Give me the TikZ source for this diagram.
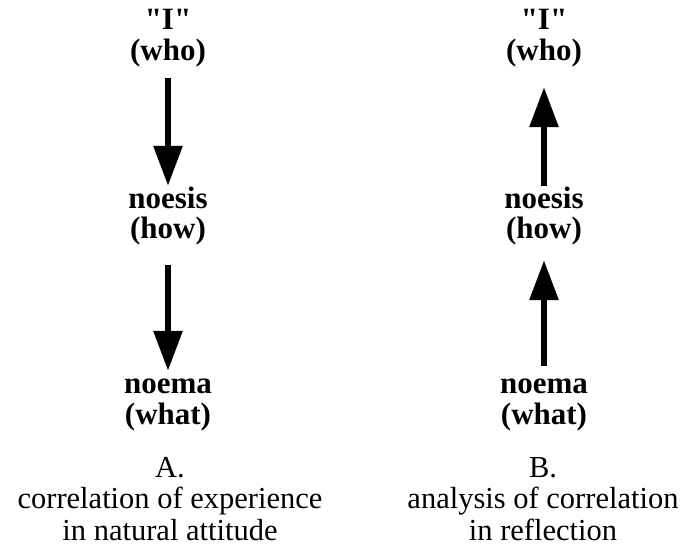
\documentclass[tikz,border=0pt]{standalone}
\usepackage{fontspec}
\setmainfont{Liberation Serif}
\newfontfamily\plainquote{Liberation Serif}
\usetikzlibrary{arrows.meta, positioning}

\begin{document}
\begin{tikzpicture}[x=1pt, y=-1pt,
    term/.style={inner sep=0pt, anchor=base, text height=22pt, text depth=7pt,
      font=\fontsize{31}{33}\selectfont\bfseries},
    caption/.style={inner sep=0pt, anchor=base, font=\fontsize{30.5}{32}\selectfont},
    flow/.style={line width=6pt, -{Triangle[length=40pt, width=28pt]}}]
    \useasboundingbox (0,0) rectangle (696,557);
    % A: natural attitude
    \node[term] (iA) at (168,29) {{\plainquote\bfseries"}I{\plainquote\bfseries"}};
    \node[term] (whoA) at (168,60) {(who)};
    \node[term] (noesisA) at (168,208) {noesis};
    \node[term] (howA) at (168,238) {(how)};
    \node[term] (noemaA) at (168,393) {noema};
    \node[term] (whatA) at (168,424) {(what)};
    \draw[flow, shorten <=11pt] (whoA.south) -- (noesisA.north);
    \draw[flow, shorten <=20pt] (howA.south) -- (noemaA.north);
    \node[caption] (capA) at (170,477) {A.};
    \node[caption] (capA1) at (170,508) {correlation of experience};
    \node[caption] (capA2) at (170,540) {in natural attitude};
    % B: reflection
    \node[term] (iB) at (544,29) {{\plainquote\bfseries"}I{\plainquote\bfseries"}};
    \node[term] (whoB) at (544,60) {(who)};
    \node[term] (noesisB) at (544,208) {noesis};
    \node[term] (howB) at (544,238) {(how)};
    \node[term] (noemaB) at (544,393) {noema};
    \node[term] (whatB) at (544,424) {(what)};
    \draw[flow, shorten >=20pt] (noesisB.north) -- (whoB.south);
    \draw[flow, shorten <=5pt, shorten >=15pt] (noemaB.north) -- (howB.south);
    \node[caption] (capB) at (543,477) {B.};
    \node[caption] (capB1) at (543,508) {analysis of correlation};
    \node[caption] (capB2) at (543,540) {in reflection};
\end{tikzpicture}
\end{document}
